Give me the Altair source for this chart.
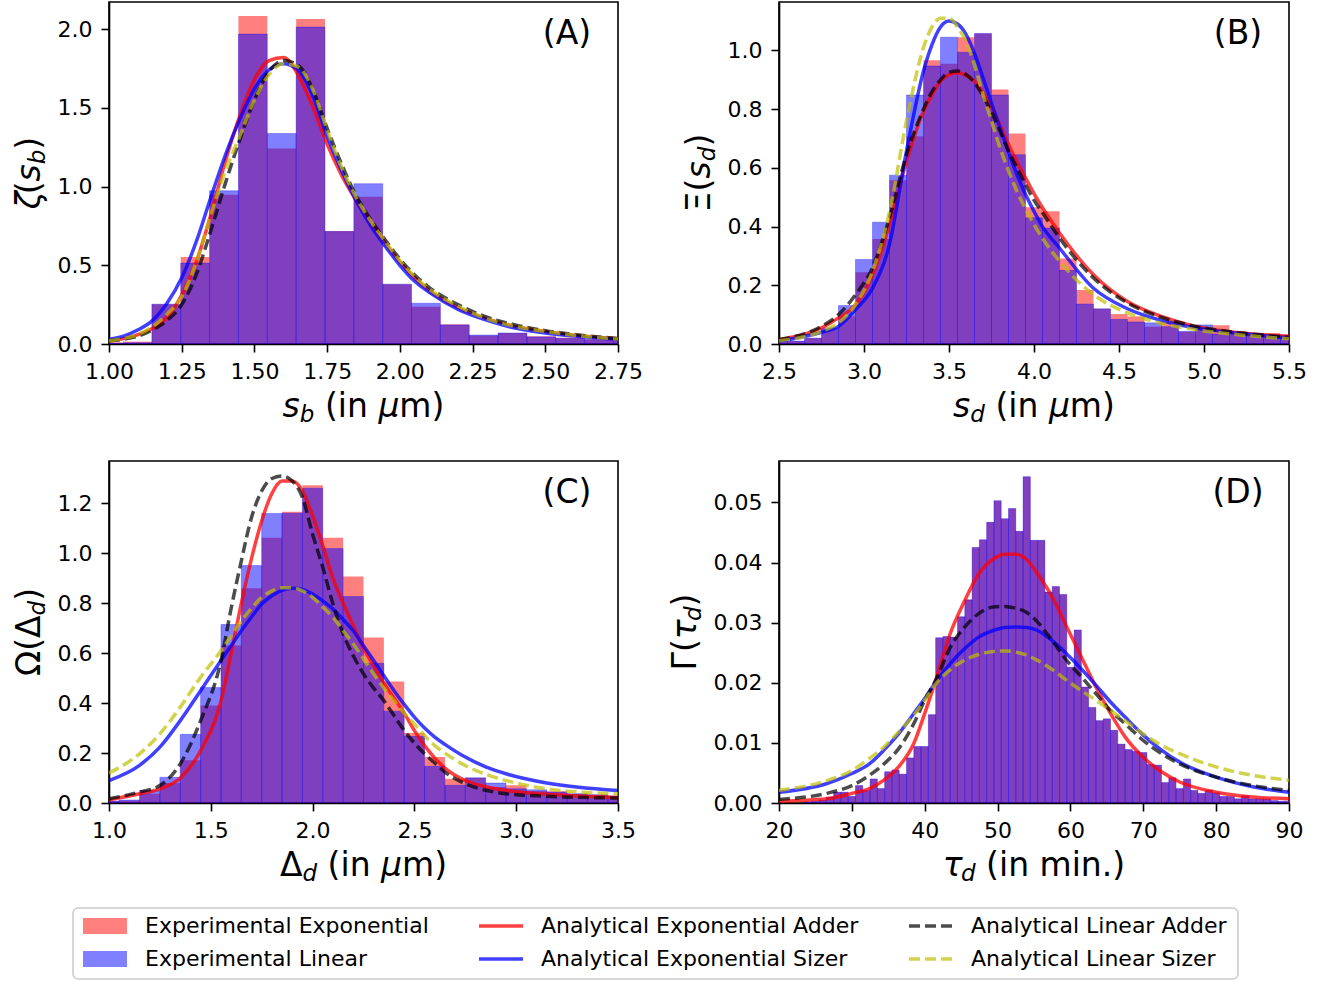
import altair as alt
import pandas as pd

FONT = "DejaVu Sans"
RED, BLUE, BLACK, OLIVE = "#ff0000", "#0000ff", "#000000", "#bfbf00"

# ---------------- Panel A : s_b ----------------
a_bin_start, a_bin_width = 0.949, 0.0992
a_hist_exp = [0.01, 0.015, 0.253, 0.553, 0.948, 2.083, 1.241, 2.064, 0.718, 0.935, 0.380,
              0.236, 0.125, 0.053, 0.070, 0.049, 0.040, 0.030, 0.020]
a_hist_lin = [0.005, 0.008, 0.253, 0.514, 0.973, 1.968, 1.337, 2.013, 0.714, 1.018, 0.380,
              0.259, 0.121, 0.057, 0.070, 0.045, 0.036, 0.028, 0.020]
a_x = [1.0, 1.05, 1.1, 1.15, 1.2, 1.25, 1.3, 1.35, 1.4, 1.45, 1.5, 1.55, 1.6, 1.65, 1.7, 1.75,
       1.8, 1.85, 1.9, 1.95, 2.0, 2.05, 2.1, 2.2, 2.3, 2.4, 2.5, 2.6, 2.75]
a_exp_adder = [0.02, 0.035, 0.06, 0.10, 0.17, 0.31, 0.52, 0.82, 1.16, 1.45, 1.68, 1.80, 1.82, 1.71,
               1.51, 1.27, 1.07, 0.91, 0.77, 0.64, 0.52, 0.42, 0.34, 0.23, 0.16, 0.11, 0.08, 0.055, 0.033]
a_exp_sizer = [0.03, 0.05, 0.09, 0.15, 0.26, 0.42, 0.65, 0.93, 1.20, 1.43, 1.62, 1.74, 1.78, 1.74,
               1.58, 1.32, 1.10, 0.91, 0.75, 0.62, 0.50, 0.40, 0.33, 0.22, 0.15, 0.10, 0.07, 0.05, 0.03]
a_lin_adder = [0.02, 0.03, 0.05, 0.09, 0.15, 0.25, 0.44, 0.72, 1.02, 1.30, 1.55, 1.73, 1.80, 1.77,
               1.62, 1.37, 1.14, 0.94, 0.79, 0.66, 0.54, 0.44, 0.36, 0.25, 0.17, 0.12, 0.085, 0.06, 0.035]
a_lin_sizer = [0.02, 0.035, 0.06, 0.11, 0.19, 0.30, 0.52, 0.82, 1.10, 1.32, 1.55, 1.71, 1.78, 1.76,
               1.62, 1.36, 1.12, 0.93, 0.78, 0.65, 0.53, 0.43, 0.35, 0.24, 0.16, 0.11, 0.08, 0.055, 0.032]

# ---------------- Panel B : s_d ----------------
b_bin_start, b_bin_width = 2.45, 0.1
b_hist_exp = [0.01, 0.01, 0.02, 0.05, 0.094, 0.244, 0.358, 0.558, 0.708, 0.967, 0.955, 1.045, 1.058,
              0.867, 0.717, 0.466, 0.452, 0.291, 0.184, 0.120, 0.102, 0.094, 0.059, 0.077, 0.042,
              0.055, 0.064, 0.043, 0.032, 0.037, 0.030]
b_hist_lin = [0.01, 0.01, 0.02, 0.055, 0.131, 0.288, 0.415, 0.575, 0.848, 0.947, 1.045, 0.994, 1.058,
              0.848, 0.645, 0.430, 0.395, 0.251, 0.136, 0.120, 0.084, 0.075, 0.072, 0.059, 0.043,
              0.065, 0.034, 0.040, 0.037, 0.026, 0.030]
b_x = [2.5, 2.75, 2.85, 2.95, 3.05, 3.15, 3.25, 3.35, 3.4, 3.45, 3.5, 3.55, 3.6, 3.65, 3.7, 3.75,
       3.8, 3.85, 3.9, 3.95, 4.0, 4.05, 4.15, 4.35, 4.55, 4.75, 4.95, 5.23, 5.5]
b_exp_adder = [0.015, 0.055, 0.089, 0.134, 0.236, 0.407, 0.623, 0.793, 0.85, 0.895, 0.918, 0.924, 0.915,
               0.895, 0.855, 0.805, 0.745, 0.68, 0.62, 0.566, 0.512, 0.464, 0.378, 0.236, 0.145, 0.094,
               0.06, 0.037, 0.026]
b_exp_sizer = [0.01, 0.04, 0.06, 0.117, 0.19, 0.34, 0.657, 0.93, 1.02, 1.08, 1.10, 1.09, 1.055, 0.99,
               0.907, 0.82, 0.736, 0.655, 0.577, 0.51, 0.452, 0.40, 0.327, 0.19, 0.12, 0.08, 0.055,
               0.035, 0.02]
b_lin_adder = [0.015, 0.06, 0.10, 0.168, 0.26, 0.43, 0.645, 0.80, 0.86, 0.90, 0.925, 0.93, 0.918, 0.89,
               0.845, 0.79, 0.725, 0.657, 0.60, 0.543, 0.49, 0.447, 0.361, 0.225, 0.14, 0.091, 0.06,
               0.037, 0.023]
b_lin_sizer = [0.011, 0.043, 0.072, 0.134, 0.248, 0.45, 0.76, 1.01, 1.08, 1.11, 1.11, 1.08, 1.03, 0.95,
               0.85, 0.76, 0.668, 0.59, 0.52, 0.46, 0.407, 0.36, 0.282, 0.168, 0.106, 0.07, 0.049,
               0.03, 0.018]

# ---------------- Panel C : Delta_d ----------------
c_bin_start, c_bin_width = 0.95, 0.1
c_hist_exp = [0.008, 0.010, 0.037, 0.080, 0.171, 0.391, 0.631, 0.860, 1.063, 1.167, 1.273, 1.063, 0.907,
              0.663, 0.487, 0.280, 0.184, 0.097, 0.101, 0.064, 0.071, 0.048, 0.047, 0.037, 0.033, 0.027]
c_hist_lin = [0.008, 0.012, 0.050, 0.103, 0.275, 0.463, 0.715, 0.951, 1.160, 1.161, 1.261, 1.019, 0.827,
              0.560, 0.368, 0.267, 0.147, 0.071, 0.101, 0.080, 0.057, 0.053, 0.044, 0.037, 0.033, 0.027]
c_x = [1.0, 1.15, 1.25, 1.35, 1.45, 1.55, 1.6, 1.65, 1.7, 1.75, 1.8, 1.85, 1.9, 1.95, 2.0, 2.05, 2.1,
       2.15, 2.2, 2.25, 2.3, 2.35, 2.4, 2.45, 2.5, 2.55, 2.6, 2.65, 2.75, 2.85, 2.95, 3.15, 3.5]
c_exp_adder = [0.013, 0.037, 0.057, 0.10, 0.21, 0.41, 0.60, 0.80, 0.98, 1.13, 1.24, 1.29, 1.29, 1.25,
               1.15, 1.03, 0.90, 0.80, 0.71, 0.62, 0.55, 0.48, 0.42, 0.36, 0.29, 0.23, 0.18, 0.14,
               0.09, 0.065, 0.05, 0.035, 0.022]
c_exp_sizer = [0.09, 0.151, 0.224, 0.33, 0.45, 0.571, 0.63, 0.69, 0.745, 0.797, 0.83, 0.852, 0.86,
               0.855, 0.837, 0.81, 0.777, 0.735, 0.69, 0.63, 0.571, 0.51, 0.45, 0.395, 0.344, 0.30,
               0.264, 0.235, 0.184, 0.145, 0.117, 0.08, 0.05]
c_lin_adder = [0.017, 0.044, 0.07, 0.157, 0.33, 0.57, 0.78, 0.97, 1.144, 1.25, 1.30, 1.31, 1.29, 1.224,
               1.077, 0.944, 0.797, 0.677, 0.59, 0.517, 0.46, 0.41, 0.35, 0.29, 0.24, 0.197, 0.16,
               0.124, 0.077, 0.051, 0.037, 0.027, 0.02]
c_lin_sizer = [0.12, 0.197, 0.277, 0.384, 0.504, 0.61, 0.67, 0.73, 0.78, 0.824, 0.85, 0.862, 0.862,
               0.85, 0.824, 0.785, 0.744, 0.69, 0.637, 0.577, 0.517, 0.46, 0.41, 0.36, 0.317, 0.27,
               0.23, 0.20, 0.15, 0.115, 0.09, 0.057, 0.037]

# ---------------- Panel D : tau_d ----------------
d_bin_start, d_bin_width = 23.5, 1.0
d_hist_exp = [0.0002, 0.0003, 0.0005, 0.0010, 0.0018, 0.0018, 0.0011, 0.0029, 0.0021, 0.0040, 0.0024,
              0.0052, 0.0055, 0.0048, 0.0075, 0.0094, 0.0094, 0.0147, 0.0275, 0.0277, 0.0276, 0.0310,
              0.0338, 0.0425, 0.0438, 0.0467, 0.0503, 0.0473, 0.0490, 0.0452, 0.0543, 0.0437, 0.0437,
              0.0351, 0.0360, 0.0347, 0.0226, 0.0288, 0.0193, 0.0159, 0.0137, 0.0140, 0.0121, 0.0098,
              0.0089, 0.0086, 0.0084, 0.0064, 0.0063, 0.0034, 0.0042, 0.0024, 0.0040, 0.0021, 0.0016,
              0.0021, 0.0017, 0.0011, 0.0011, 0.0007, 0.0012, 0.0007, 0.0007, 0.0007, 0.0004, 0.0003,
              0.0003]
d_hist_lin = list(d_hist_exp)  # the two histograms coincide in panel D
d_x = [20, 26.5, 30, 32.4, 34.4, 36.4, 38.5, 40, 41.5, 43.5, 45.5, 47.4, 49.4, 51, 52.5, 54, 55.5,
       57.5, 59.5, 61.5, 63.5, 65.5, 67.5, 70, 72.5, 75, 80, 85, 90]
d_exp_adder = [0.0003, 0.0007, 0.0016, 0.0024, 0.0038, 0.006, 0.0099, 0.0149, 0.0204, 0.0282, 0.0337,
               0.0381, 0.0406, 0.0414, 0.0414, 0.0405, 0.0381, 0.0343, 0.0293, 0.0243, 0.0193, 0.0149,
               0.011, 0.0076, 0.0052, 0.0035, 0.0018, 0.001, 0.0007]
d_exp_sizer = [0.0018, 0.0032, 0.0049, 0.0065, 0.0088, 0.0115, 0.0149, 0.0174, 0.0201, 0.0232, 0.0257,
               0.0276, 0.0287, 0.0292, 0.0293, 0.0292, 0.0287, 0.027, 0.0248, 0.0223, 0.0196, 0.0168,
               0.0143, 0.0113, 0.0088, 0.0068, 0.0043, 0.0027, 0.0018]
d_lin_adder = [0.0006, 0.0016, 0.0029, 0.0046, 0.0065, 0.009, 0.0132, 0.0171, 0.0204, 0.0259, 0.0293,
               0.0315, 0.0326, 0.0327, 0.0324, 0.0317, 0.0301, 0.027, 0.0237, 0.021, 0.0182, 0.0154,
               0.0132, 0.0104, 0.0082, 0.0065, 0.0043, 0.0029, 0.0021]
d_lin_sizer = [0.0021, 0.0037, 0.0054, 0.0074, 0.0093, 0.0118, 0.0146, 0.0171, 0.0198, 0.0222, 0.0238,
               0.0247, 0.0252, 0.0253, 0.0251, 0.0246, 0.0237, 0.0222, 0.0204, 0.0187, 0.0171, 0.0154,
               0.0137, 0.0115, 0.0096, 0.0082, 0.006, 0.0046, 0.0038]

legend_labels = ["Experimental Exponential", "Experimental Linear",
                 "Analytical Exponential Adder", "Analytical Exponential Sizer",
                 "Analytical Linear Adder", "Analytical Linear Sizer"]

# axis titles as (text, is_subscript, italic) pieces
a_xtitle = [("s", False, True), ("b", True, True), (" (in ", False, False), ("μ", False, True), ("m)", False, False)]
b_xtitle = [("s", False, True), ("d", True, True), (" (in ", False, False), ("μ", False, True), ("m)", False, False)]
c_xtitle = [("Δ", False, False), ("d", True, True), (" (in ", False, False), ("μ", False, True), ("m)", False, False)]
d_xtitle = [("τ", False, True), ("d", True, True), (" (in min.)", False, False)]
a_ytitle = [("ζ", False, True), ("(", False, False), ("s", False, True), ("b", True, True), (")", False, False)]
b_ytitle = [("Ξ(", False, False), ("s", False, True), ("d", True, True), (")", False, False)]
c_ytitle = [("Ω(Δ", False, False), ("d", True, True), (")", False, False)]
d_ytitle = [("Γ(", False, False), ("τ", False, True), ("d", True, True), (")", False, False)]

# ---------------- helpers ----------------
TICK_FS, TITLE_FS, SUB_FS, LEG_FS = 22, 33, 23, 22
LW = 3.5
CHARW = {'ζ': 0.45, 'Ξ': 0.635, 'Ω': 0.764, 'Γ': 0.557, 'Δ': 0.684, 'τ': 0.55, '(': 0.39, ')': 0.39,
         's': 0.521, 'b': 0.635, 'd': 0.635, ' ': 0.318, 'i': 0.278, 'n': 0.634, 'μ': 0.636,
         'm': 0.974, '.': 0.318}
DUMMY = pd.DataFrame({"k": [0]})


def tw(s, fs):
    return sum(CHARW.get(c, 0.6) for c in s) * fs


def txt(s, x, y, fs, italic=False, align="left", angle=None, dx=0, dy=0):
    kw = dict(text=s, font=FONT, fontSize=fs, align=align, baseline="middle", color="black")
    if italic:
        kw["fontStyle"] = "italic"
    if angle is not None:
        kw["angle"] = angle
    if dx:
        kw["dx"] = dx
    if dy:
        kw["dy"] = dy
    return alt.Chart(DUMMY).mark_text(**kw).encode(x=alt.value(x), y=alt.value(y))


def title_layers(pieces, x, y, angle=None):
    """Place pieces left-to-right (in reading direction) starting at the given anchor."""
    out = []
    off = 0.0
    for s, sub, it in pieces:
        fs = SUB_FS if sub else TITLE_FS
        lead = len(s) - len(s.lstrip(" "))
        core = s.strip(" ")
        out.append(txt(core, x, y, fs, italic=it, align="left", angle=angle,
                       dx=off + tw(" " * lead, fs), dy=8 if sub else 0))
        off += tw(s, fs)
    return out


def pieces_width(pieces):
    return sum(tw(s, SUB_FS if sub else TITLE_FS) for s, sub, _ in pieces)


def hist_df(start, width, vals):
    n = len(vals)
    return pd.DataFrame({"lo": [start + i * width for i in range(n)],
                         "hi": [start + (i + 1) * width for i in range(n)],
                         "h": vals, "z": [0.0] * n})


def panel(p, W, H):
    xs = alt.Scale(domain=p["xdom"], nice=False, zero=False)
    ys = alt.Scale(domain=p["ydom"], nice=False, zero=True)
    xax = alt.Axis(values=p["xticks"], format=p["xfmt"], title=None)
    yax = alt.Axis(values=p["yticks"], format=p["yfmt"], title=None)
    layers = []
    start, width = p["bins"]
    layers.append(alt.Chart(hist_df(start, width, p["hexp"])).mark_rect(
        fill=RED, fillOpacity=0.5, strokeWidth=0, clip=True).encode(
        x=alt.X("lo:Q", scale=xs, axis=xax), x2="hi:Q",
        y=alt.Y("h:Q", scale=ys, axis=yax), y2="z:Q"))
    layers.append(alt.Chart(hist_df(start, width, p["hlin"])).mark_rect(
        fill=BLUE, fillOpacity=0.5, stroke=BLUE, strokeWidth=0.6, strokeOpacity=0.5, clip=True).encode(
        x=alt.X("lo:Q", scale=xs, axis=xax), x2="hi:Q",
        y=alt.Y("h:Q", scale=ys, axis=yax), y2="z:Q"))
    styles = [(RED, 0.75, None), (BLUE, 0.75, None), (BLACK, 0.7, [11, 5]), (OLIVE, 0.7, [11, 5])]
    for yv, (col, op, dash) in zip(p["curves"], styles):
        kw = dict(color=col, strokeWidth=LW, opacity=op, interpolate="monotone", clip=True)
        if dash:
            kw["strokeDash"] = dash
        layers.append(alt.Chart(pd.DataFrame({"x": p["cx"], "y": yv})).mark_line(**kw).encode(
            x=alt.X("x:Q", scale=xs, axis=xax), y=alt.Y("y:Q", scale=ys, axis=yax)))
    # panel letter
    layers.append(txt(p["letter"], W - 51, 32, TITLE_FS, align="center"))
    # x title
    xw = pieces_width(p["xtitle"])
    layers += title_layers(p["xtitle"], W / 2 - xw / 2, H + 63)
    # y title (rotated, reading upwards)
    yw = pieces_width(p["ytitle"])
    layers += title_layers(p["ytitle"], p["ytx"], H / 2 + yw / 2, angle=270)
    return alt.layer(*layers).properties(width=W, height=H)


PH = 342
pA = dict(bins=(a_bin_start, a_bin_width), hexp=a_hist_exp, hlin=a_hist_lin, cx=a_x,
          curves=[a_exp_adder, a_exp_sizer, a_lin_adder, a_lin_sizer],
          xdom=[1.0, 2.75], ydom=[0, 2.172], xticks=[1.0, 1.25, 1.5, 1.75, 2.0, 2.25, 2.5, 2.75],
          yticks=[0, 0.5, 1.0, 1.5, 2.0], xfmt=".2f", yfmt=".1f", letter="(A)",
          xtitle=a_xtitle, ytitle=a_ytitle, ytx=-79)
pB = dict(bins=(b_bin_start, b_bin_width), hexp=b_hist_exp, hlin=b_hist_lin, cx=b_x,
          curves=[b_exp_adder, b_exp_sizer, b_lin_adder, b_lin_sizer],
          xdom=[2.5, 5.5], ydom=[0, 1.165], xticks=[2.5, 3.0, 3.5, 4.0, 4.5, 5.0, 5.5],
          yticks=[0, 0.2, 0.4, 0.6, 0.8, 1.0], xfmt=".1f", yfmt=".1f", letter="(B)",
          xtitle=b_xtitle, ytitle=b_ytitle, ytx=-79)
pC = dict(bins=(c_bin_start, c_bin_width), hexp=c_hist_exp, hlin=c_hist_lin, cx=c_x,
          curves=[c_exp_adder, c_exp_sizer, c_lin_adder, c_lin_sizer],
          xdom=[1.0, 3.5], ydom=[0, 1.37], xticks=[1.0, 1.5, 2.0, 2.5, 3.0, 3.5],
          yticks=[0, 0.2, 0.4, 0.6, 0.8, 1.0, 1.2], xfmt=".1f", yfmt=".1f", letter="(C)",
          xtitle=c_xtitle, ytitle=c_ytitle, ytx=-79)
pD = dict(bins=(d_bin_start, d_bin_width), hexp=d_hist_exp, hlin=d_hist_lin, cx=d_x,
          curves=[d_exp_adder, d_exp_sizer, d_lin_adder, d_lin_sizer],
          xdom=[20, 90], ydom=[0, 0.0569], xticks=[20, 30, 40, 50, 60, 70, 80, 90],
          yticks=[0, 0.01, 0.02, 0.03, 0.04, 0.05], xfmt="d", yfmt=".2f", letter="(D)",
          xtitle=d_xtitle, ytitle=d_ytitle, ytx=-93)

chA = panel(pA, 509, PH)
chB = panel(pB, 510, PH)
chC = panel(pC, 509, PH)
chD = panel(pD, 510, PH)

# ---------------- legend (third grid row, under panel C's column) ----------------
SHIFT = -12
row_y = [18 + SHIFT, 51 + SHIFT]
sym_x = [-26, 370, 800]
txt_x = [36, 432, 862]
HL = 44
leg_layers = [alt.Chart(DUMMY).mark_rect(fill="white", stroke="#cccccc", strokeWidth=1.6,
                                          cornerRadius=5).encode(
    x=alt.value(-36), x2=alt.value(1129), y=alt.value(0 + SHIFT), y2=alt.value(71 + SHIFT))]
for r, col in enumerate([RED, BLUE]):
    leg_layers.append(alt.Chart(DUMMY).mark_rect(fill=col, fillOpacity=0.5).encode(
        x=alt.value(sym_x[0]), x2=alt.value(sym_x[0] + HL),
        y=alt.value(row_y[r] - 8), y2=alt.value(row_y[r] + 8)))
line_styles = [(RED, 0.75, None), (BLUE, 0.75, None), (BLACK, 0.7, [11, 5]), (OLIVE, 0.7, [11, 5])]
for i, (col, op, dash) in enumerate(line_styles):
    c = 1 + i // 2
    r = i % 2
    kw = dict(color=col, strokeWidth=LW, opacity=op)
    if dash:
        kw["strokeDash"] = dash
    leg_layers.append(alt.Chart(DUMMY).mark_rule(**kw).encode(
        x=alt.value(sym_x[c]), x2=alt.value(sym_x[c] + HL), y=alt.value(row_y[r])))
for i, lab in enumerate(legend_labels):
    c = i // 2
    r = i % 2
    leg_layers.append(txt(lab, txt_x[c], row_y[r], LEG_FS))
legend = alt.layer(*leg_layers).properties(width=500, height=59,
                                            view=alt.ViewBackground(strokeOpacity=0))

chart = alt.concat(chA, chB, chC, chD, legend, columns=2,
                   spacing={"row": 117, "column": 161}, bounds="flush").properties(
    padding={"left": 13, "top": 1, "right": 5, "bottom": 2}
).configure_view(stroke="black", strokeWidth=1.6).configure_axis(
    domainColor="black", domainWidth=1.6, tickColor="black", tickWidth=1.6, tickSize=8,
    labelFont=FONT, labelFontSize=TICK_FS, labelColor="black", labelPadding=9,
    labelFlush=False, labelOverlap=False, grid=False)

chart.save("out.html", embed_options={"renderer": "svg", "actions": False})
